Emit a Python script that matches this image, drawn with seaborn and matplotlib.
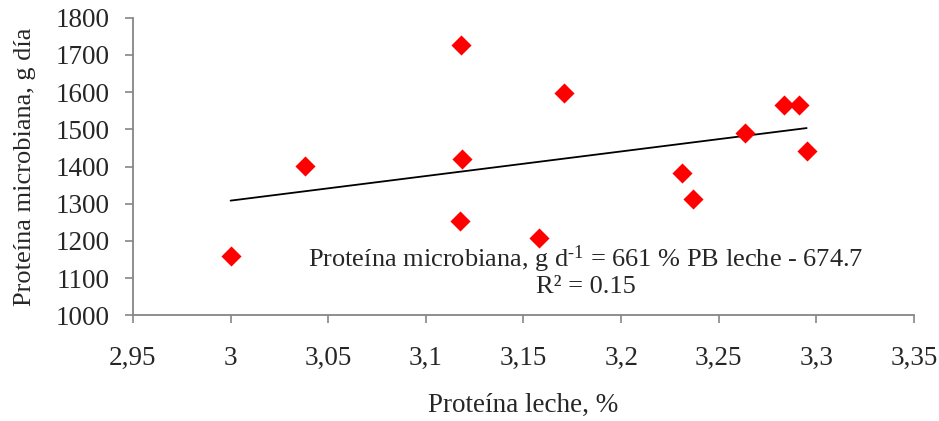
import matplotlib
matplotlib.use("Agg")
import matplotlib.pyplot as plt
import seaborn as sns
import pandas as pd
import numpy as np

# Data
proteina_leche = [3.000, 3.038, 3.118, 3.1185, 3.1175, 3.158, 3.171, 3.231, 3.237, 3.2635, 3.2835, 3.291, 3.295]
proteina_microbiana = [1160, 1401, 1727, 1421, 1254, 1208, 1598, 1382, 1313, 1491, 1565, 1566, 1442]
slope = 661.0
intercept = -674.7
r2 = 0.15
x_ticks = [2.95, 3.0, 3.05, 3.1, 3.15, 3.2, 3.25, 3.3, 3.35]
x_tick_labels = ["2,95", "3", "3,05", "3,1", "3,15", "3,2", "3,25", "3,3", "3,35"]
y_ticks = [1000, 1100, 1200, 1300, 1400, 1500, 1600, 1700, 1800]

sns.set_style("white")
plt.rcParams['font.family'] = ['Liberation Serif', 'DejaVu Serif']
plt.rcParams['mathtext.fontset'] = 'custom'
plt.rcParams['mathtext.rm'] = 'Liberation Serif'
plt.rcParams['mathtext.it'] = 'Liberation Serif:italic'

df = pd.DataFrame({"x": proteina_leche, "y": proteina_microbiana})

fig = plt.figure(figsize=(9.39, 4.21), dpi=100)
ax = fig.add_axes([0.1416, 0.251, 0.8318, 0.707])

xs = np.array([min(proteina_leche), max(proteina_leche)])
sns.lineplot(x=xs, y=slope * xs + intercept, ax=ax, color="black", linewidth=1.3)
sns.scatterplot(data=df, x="x", y="y", ax=ax, marker="D", s=105, color="#ff0000",
                linewidth=0, zorder=3)

ax.set_xlim(2.95, 3.35)
ax.set_ylim(1000, 1800)
ax.set_xticks(x_ticks)
ax.set_xticklabels(x_tick_labels)
ax.set_yticks(y_ticks)
ax.tick_params(axis="both", which="both", direction="out", length=6, width=1.2,
               color="#868686", labelsize=19.5, bottom=True, left=True)
ax.tick_params(axis="y", pad=11)
ax.tick_params(axis="x", pad=16)
for s in ["top", "right"]:
    ax.spines[s].set_visible(False)
for s in ["left", "bottom"]:
    ax.spines[s].set_color("#868686")
    ax.spines[s].set_linewidth(1.3)

ax.set_xlabel("Proteína leche, %", fontsize=19.5, labelpad=16)
ax.set_ylabel("Proteína microbiana, g día", fontsize=19, labelpad=14)

ax.text(3.182, 1119,
        "Proteína microbiana, g d$^{\\text{-}1}$ = 661 % PB leche - 674.7\nR² = 0.15",
        ha="center", va="center", fontsize=19, multialignment="center",
        linespacing=1.05)

fig.savefig("out.png", dpi=100)
